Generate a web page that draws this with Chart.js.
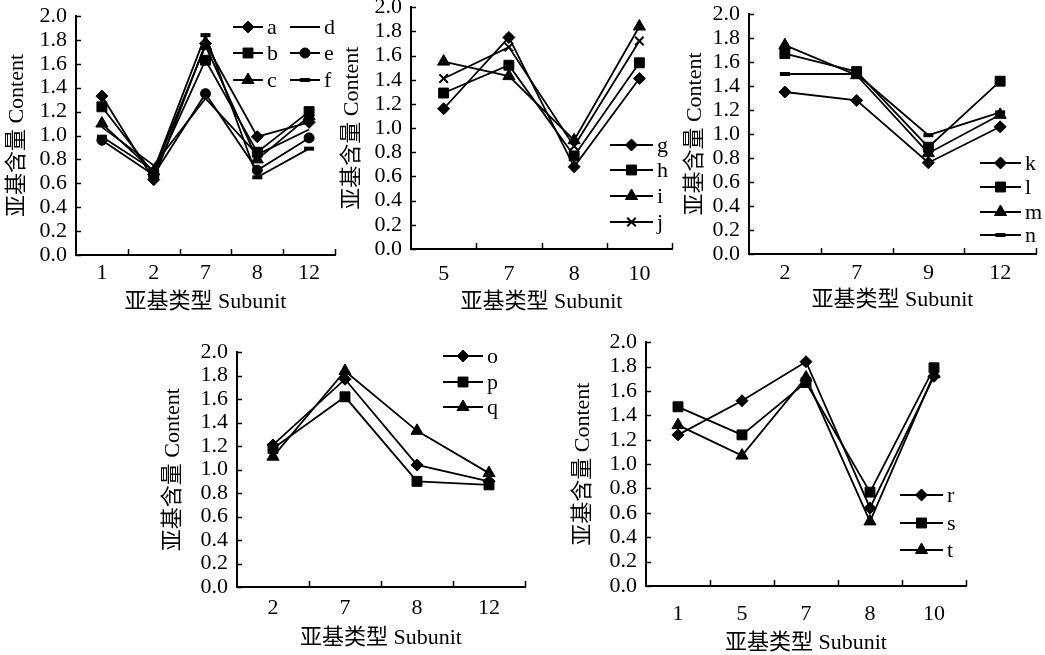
<!DOCTYPE html>
<html>
<head>
<meta charset="utf-8">
<script src="https://cdn.jsdelivr.net/npm/chart.js@4/dist/chart.umd.min.js"></script>
<style>
  html, body { margin: 0; padding: 0; background: #fff; width: 1045px; height: 655px; overflow: hidden; position: relative; }
  canvas { position: absolute; }
</style>
</head>
<body>
<canvas id="c1"></canvas>
<canvas id="c2"></canvas>
<canvas id="c3"></canvas>
<canvas id="c4"></canvas>
<canvas id="c5"></canvas>
<script>
// 亚基类型 (categories) per panel
const labels1 = ['1', '2', '7', '8', '12'];
const labels2 = ['5', '7', '8', '10'];
const labels3 = ['2', '7', '9', '12'];
const labels4 = ['2', '7', '8', '12'];
const labels5 = ['1', '5', '7', '8', '10'];

// 亚基含量 values
const a = [1.33, 0.63, 1.77, 0.99, 1.11];
const b = [1.24, 0.68, 1.63, 0.86, 1.20];
const c = [1.10, 0.70, 1.75, 0.80, 1.16];
const d = [1.07, 0.75, 1.31, 0.84, 1.05];
const e = [0.96, 0.67, 1.35, 0.71, 0.98];
const f = [0.99, 0.71, 1.84, 0.65, 0.89];

const g = [1.16, 1.75, 0.68, 1.41];
const h = [1.29, 1.52, 0.77, 1.54];
const i = [1.55, 1.43, 0.90, 1.84];
const j = [1.41, 1.67, 0.85, 1.72];

const k = [1.35, 1.28, 0.76, 1.06];
const l = [1.67, 1.52, 0.89, 1.44];
const m = [1.74, 1.49, 0.84, 1.16];
const n = [1.50, 1.50, 0.99, 1.18];

const o = [1.21, 1.77, 1.04, 0.90];
const p = [1.18, 1.62, 0.90, 0.87];
const q = [1.11, 1.84, 1.33, 0.97];

const r = [1.24, 1.52, 1.84, 0.64, 1.72];
const s = [1.47, 1.24, 1.67, 0.77, 1.79];
const t = [1.32, 1.07, 1.71, 0.53, 1.74];

const FONT = '"Liberation Serif", "Times New Roman", "Noto Sans CJK SC", serif';

// marker looks
const MARK = {
  diamond: { pointStyle: 'rectRot', radius: 6, bw: 1 },
  square: { pointStyle: 'rect', radius: 7, bw: 1 },
  triangle: { pointStyle: 'triangle', radius: 7, bw: 1 },
  circle: { pointStyle: 'circle', radius: 5, bw: 1 },
  cross: { pointStyle: 'crossRot', radius: 6, bw: 2 },
  dash: { pointStyle: 'line', radius: 5, bw: 4 },
  none: { pointStyle: 'circle', radius: 0, bw: 0 }
};

// inside tick marks, like the original
const innerTicks = {
  id: 'innerTicks',
  afterDraw(chart) {
    const { ctx, chartArea, scales } = chart;
    ctx.save();
    ctx.strokeStyle = '#000';
    ctx.lineWidth = 1.5;
    ctx.beginPath();
    scales.y.ticks.forEach(tk => {
      const py = Math.round(scales.y.getPixelForValue(tk.value)) + 0.5;
      ctx.moveTo(chartArea.left, py);
      ctx.lineTo(chartArea.left + 5, py);
    });
    for (let idx = 1; idx <= scales.x.ticks.length; idx++) {
      const px = Math.round(scales.x.getPixelForValue(idx - 0.5)) + 0.5;
      ctx.moveTo(px, chartArea.bottom);
      ctx.lineTo(px, chartArea.bottom - 6);
    }
    ctx.stroke();
    ctx.restore();
  }
};

// legend drawn at fixed places inside each panel
const panelLegend = {
  id: 'panelLegend',
  afterDraw(chart, args, opts) {
    const { ctx } = chart;
    ctx.save();
    ctx.fillStyle = '#000';
    ctx.strokeStyle = '#000';
    ctx.font = '22px ' + FONT;
    ctx.textBaseline = 'middle';
    ctx.textAlign = 'left';
    opts.items.forEach((it, idx) => {
      const ds = chart.data.datasets[idx];
      const x1 = it.x1 - opts.box.x, x2 = it.x2 - opts.box.x, y = it.y - opts.box.y;
      ctx.lineWidth = 2;
      ctx.beginPath();
      ctx.moveTo(x1, y);
      ctx.lineTo(x2, y);
      ctx.stroke();
      const mk = MARK[ds.mark];
      if (mk.radius > 0) {
        ctx.lineWidth = mk.bw;
        Chart.helpers.drawPoint(ctx, { pointStyle: mk.pointStyle, radius: mk.radius, borderWidth: mk.bw, rotation: 0 }, (x1 + x2) / 2, y);
      }
      ctx.fillText(ds.label, x2 + 4, y + 1);
    });
    ctx.restore();
  }
};

function panel(id, box, plot, labels, series, legendItems, txt) {
  const cv = document.getElementById(id);
  cv.width = box.w;
  cv.height = box.h;
  cv.style.left = box.x + 'px';
  cv.style.top = box.y + 'px';
  cv.style.width = box.w + 'px';
  cv.style.height = box.h + 'px';
  const lh = 22 * 1.2;

  new Chart(cv, {
    type: 'line',
    data: {
      labels: labels,
      datasets: series.map(sr => ({
        label: sr.name,
        mark: sr.mark,
        data: sr.data,
        borderColor: '#000',
        backgroundColor: '#000',
        borderWidth: 1.8,
        tension: 0,
        pointStyle: MARK[sr.mark].pointStyle,
        pointRadius: MARK[sr.mark].radius,
        pointBorderWidth: MARK[sr.mark].bw,
        pointBackgroundColor: '#000',
        pointBorderColor: '#000'
      }))
    },
    options: {
      responsive: false,
      animation: false,
      events: [],
      layout: { padding: { top: plot.t - box.y, right: box.x + box.w - plot.r, left: 0, bottom: 0 } },
      plugins: {
        legend: { display: false },
        tooltip: { enabled: false },
        panelLegend: { items: legendItems, box: box }
      },
      scales: {
        x: {
          offset: true,
          grid: { display: false, drawTicks: false },
          border: { display: true, color: '#000', width: 2 },
          ticks: { color: '#000', padding: txt.xLabelY - plot.b - 12, font: { family: FONT, size: 22 } },
          title: {
            display: true, text: '亚基类型 Subunit', color: '#000',
            font: { family: FONT, size: 22 },
            padding: { top: 0, bottom: box.y + box.h - txt.xTitleY - lh / 2 }
          },
          afterFit: sc => { sc.height = box.y + box.h - plot.b; }
        },
        y: {
          min: 0, max: 2,
          grid: { display: false, drawTicks: false },
          border: { display: true, color: '#000', width: 2 },
          ticks: {
            stepSize: 0.2, autoSkip: false, color: '#000', padding: 9,
            font: { family: FONT, size: 22 }, callback: v => v.toFixed(1)
          },
          title: {
            display: true, text: '亚基含量 Content', color: '#000',
            font: { family: FONT, size: 22 },
            padding: { top: txt.yTitleX - box.x - lh / 2, bottom: 0 }
          },
          afterFit: sc => { sc.width = plot.l - box.x; }
        }
      }
    },
    plugins: [innerTicks, panelLegend]
  });
}

// panel 1
const box1 = { x: 0, y: -10, w: 345, h: 330 };
panel('c1', box1, { l: 76, t: 16, r: 335, b: 255 }, labels1, [
  { name: 'a', mark: 'diamond', data: a },
  { name: 'b', mark: 'square', data: b },
  { name: 'c', mark: 'triangle', data: c },
  { name: 'd', mark: 'none', data: d },
  { name: 'e', mark: 'circle', data: e },
  { name: 'f', mark: 'dash', data: f }
], [
  { x1: 233, x2: 263, y: 27 }, { x1: 233, x2: 263, y: 53 }, { x1: 233, x2: 263, y: 80 },
  { x1: 290, x2: 320, y: 27 }, { x1: 290, x2: 320, y: 53 }, { x1: 290, x2: 320, y: 80 }
], { yTitleX: 17, xLabelY: 272, xTitleY: 302 });

// panel 2
const box2 = { x: 335, y: -15, w: 347, h: 335 };
panel('c2', box2, { l: 411, t: 7, r: 672, b: 249 }, labels2, [
  { name: 'g', mark: 'diamond', data: g },
  { name: 'h', mark: 'square', data: h },
  { name: 'i', mark: 'triangle', data: i },
  { name: 'j', mark: 'cross', data: j }
], [
  { x1: 610, x2: 653, y: 145 }, { x1: 610, x2: 653, y: 170 },
  { x1: 610, x2: 653, y: 196 }, { x1: 610, x2: 653, y: 222 }
], { yTitleX: 352, xLabelY: 273, xTitleY: 302 });

// panel 3
const box3 = { x: 678, y: -10, w: 367, h: 330 };
panel('c3', box3, { l: 749, t: 14, r: 1038, b: 254 }, labels3, [
  { name: 'k', mark: 'diamond', data: k },
  { name: 'l', mark: 'square', data: l },
  { name: 'm', mark: 'triangle', data: m },
  { name: 'n', mark: 'dash', data: n }
], [
  { x1: 980, x2: 1021, y: 163 }, { x1: 980, x2: 1021, y: 187 },
  { x1: 980, x2: 1021, y: 212 }, { x1: 980, x2: 1021, y: 235 }
], { yTitleX: 695, xLabelY: 272, xTitleY: 300 });

// panel 4
const box4 = { x: 156, y: 330, w: 389, h: 335 };
panel('c4', box4, { l: 237, t: 352, r: 525, b: 587 }, labels4, [
  { name: 'o', mark: 'diamond', data: o },
  { name: 'p', mark: 'square', data: p },
  { name: 'q', mark: 'triangle', data: q }
], [
  { x1: 443, x2: 483, y: 356 }, { x1: 443, x2: 483, y: 382 }, { x1: 443, x2: 483, y: 407 }
], { yTitleX: 173, xLabelY: 607, xTitleY: 638 });

// panel 5
const box5 = { x: 566, y: 320, w: 479, h: 345 };
panel('c5', box5, { l: 646, t: 342, r: 966, b: 586 }, labels5, [
  { name: 'r', mark: 'diamond', data: r },
  { name: 's', mark: 'square', data: s },
  { name: 't', mark: 'triangle', data: t }
], [
  { x1: 900, x2: 943, y: 495 }, { x1: 900, x2: 943, y: 523 }, { x1: 900, x2: 943, y: 550 }
], { yTitleX: 583, xLabelY: 613, xTitleY: 643 });
</script>
</body>
</html>
